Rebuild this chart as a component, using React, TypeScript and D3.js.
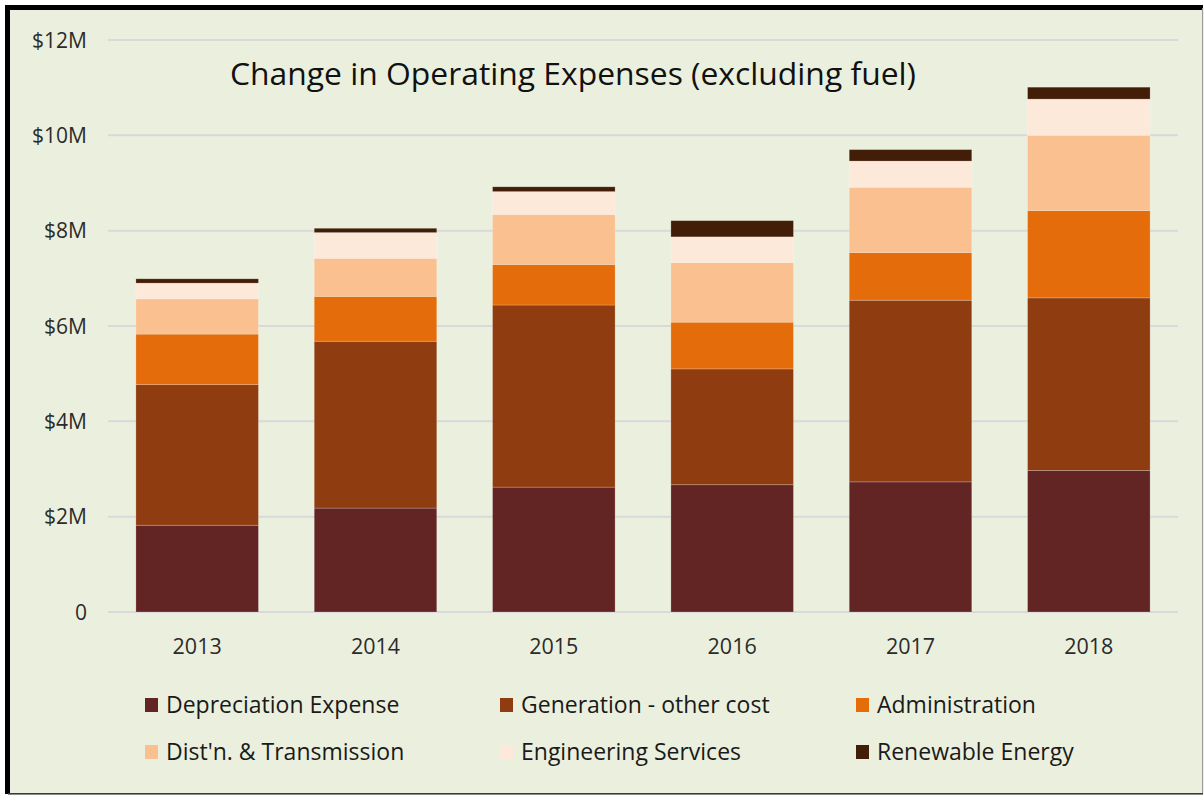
import React from "react";
import * as d3 from "d3";

const years = ["2013", "2014", "2015", "2016", "2017", "2018"];
const seriesNames = [
  "Depreciation Expense",
  "Generation - other cost",
  "Administration",
  "Dist'n. & Transmission",
  "Engineering Services",
  "Renewable Energy",
];
const depreciation = [1.82, 2.18, 2.62, 2.67, 2.73, 2.97];
const generation = [2.95, 3.5, 3.82, 2.43, 3.81, 3.62];
const administration = [1.06, 0.94, 0.85, 0.98, 1.0, 1.83];
const distTransmission = [0.74, 0.8, 1.05, 1.25, 1.37, 1.58];
const engineering = [0.33, 0.54, 0.48, 0.54, 0.55, 0.76];
const renewable = [0.09, 0.09, 0.1, 0.34, 0.24, 0.25];
const yTicks = [0, 2, 4, 6, 8, 10, 12];
const tickLabel = (v: number) => (v === 0 ? "0" : `$${v}M`);

const colors = ["#632523", "#8f3c10", "#e46c0a", "#fac090", "#fde9d9", "#421d07"];

const W = 1204;
const H = 796;
const FONT = "'Open Sans', sans-serif";

export default function App() {
  const seriesValues = [depreciation, generation, administration, distTransmission, engineering, renewable];
  const rows = years.map((y, i) => {
    const r: Record<string, any> = { year: y };
    seriesNames.forEach((n, k) => (r[n] = seriesValues[k][i]));
    return r;
  });
  const stacked = d3.stack<any>().keys(seriesNames)(rows);

  const x = d3.scaleBand<string>().domain(years).range([108, 1178]).paddingInner(0.313).paddingOuter(0.1565);
  const y = d3.scaleLinear().domain([0, 12]).range([612, 40]);

  const legendCols = [145, 500, 856];
  const legendRows = [705, 752];

  return (
    <svg width={W} height={H} style={{ position: "absolute", left: 0, top: 0 }} fontFamily={FONT}>
      <rect x={0} y={0} width={W} height={H} fill="#ffffff" />
      <rect x={5} y={5} width={1198} height={789} fill="#ebf0de" />
      {/* frame */}
      <rect x={5} y={5} width={1198} height={5} fill="#000" />
      <rect x={5} y={5} width={5} height={789} fill="#000" />
      <rect x={1202} y={8} width={1.2} height={786} fill="#9a9a9a" />
      <rect x={8} y={793} width={1195} height={1.6} fill="#3a3a3a" />

      {/* gridlines */}
      {yTicks.map((t) => (
        <line key={t} x1={108} x2={1178} y1={y(t)} y2={y(t)} stroke="#d9d9d9" strokeWidth={2} />
      ))}
      {/* y tick labels */}
      {yTicks.map((t) => (
        <text key={"l" + t} x={87} y={y(t)} dy="0.36em" textAnchor="end" fontSize={21} fill="#2b2b2b">
          {tickLabel(t)}
        </text>
      ))}

      {/* bars */}
      {stacked.map((s, k) => (
        <g key={s.key} fill={colors[k]}>
          {s.map((d, i) => (
            <rect
              key={i}
              x={x(years[i])}
              width={x.bandwidth()}
              y={y(d[1])}
              height={y(d[0]) - y(d[1])}
              stroke="rgba(255,255,255,0.25)"
              strokeWidth={0.8}
            />
          ))}
        </g>
      ))}

      {/* x labels */}
      {years.map((yr) => (
        <text key={yr} x={(x(yr) as number) + x.bandwidth() / 2} y={646} dy="0.36em" textAnchor="middle" fontSize={21.5} fill="#2b2b2b">
          {yr}
        </text>
      ))}

      {/* title */}
      <text x={230} y={85} fontSize={31} fill="#111" textLength={686} lengthAdjust="spacingAndGlyphs">
        Change in Operating Expenses (excluding fuel)
      </text>

      {/* legend */}
      {seriesNames.map((n, k) => {
        const cx = legendCols[k % 3];
        const cy = legendRows[Math.floor(k / 3)];
        return (
          <g key={n}>
            <rect x={cx} y={cy - 7} width={13} height={14} fill={colors[k]} />
            <text x={cx + 21} y={cy} dy="0.36em" fontSize={23} fill="#1a1a1a">
              {n}
            </text>
          </g>
        );
      })}
    </svg>
  );
}
